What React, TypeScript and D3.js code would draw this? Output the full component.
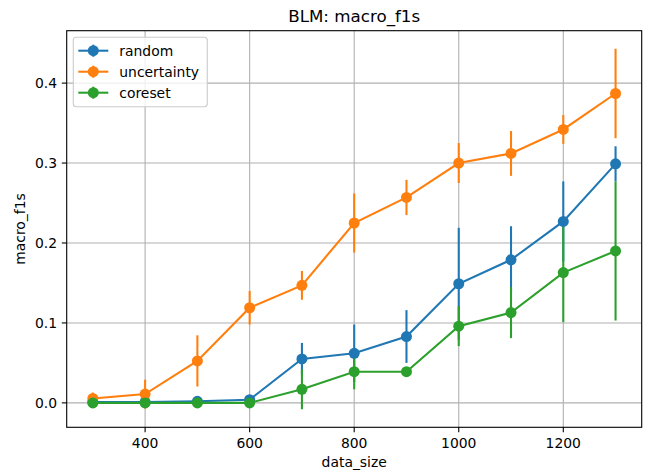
import React from 'react';
import * as d3 from 'd3';

// data
const dataSizes = [300, 400, 500, 600, 700, 800, 900, 1000, 1100, 1200, 1300];

const randomScores = [0.001, 0.001, 0.002, 0.004, 0.055, 0.062, 0.083, 0.149, 0.179, 0.227, 0.299];
const randomErrors = [0.001, 0.001, 0.002, 0.003, 0.02, 0.036, 0.033, 0.07, 0.042, 0.05, 0.022];

const uncertaintyScores = [0.0055, 0.011, 0.0525, 0.119, 0.147, 0.225, 0.257, 0.3, 0.312, 0.342, 0.387];
const uncertaintyErrors = [0.0075, 0.018, 0.032, 0.021, 0.018, 0.037, 0.022, 0.025, 0.028, 0.018, 0.056];

const coresetScores = [0, 0, 0, 0, 0.017, 0.039, 0.039, 0.096, 0.113, 0.163, 0.19];
const coresetErrors = [0.001, 0.001, 0.001, 0.001, 0.025, 0.022, 0.001, 0.025, 0.032, 0.062, 0.087];

const seriesNames = ['random', 'uncertainty', 'coreset'];
const seriesColors = ['#1f77b4', '#ff7f0e', '#2ca02c'];

const xTicks = [400, 600, 800, 1000, 1200];
const yTicks = [0, 0.1, 0.2, 0.3, 0.4];

const W = 651;
const H = 473;
const plot = { left: 66.7, right: 641.7, top: 30.7, bottom: 427.3 };
const font = 'DejaVu Sans, sans-serif';

interface Series {
  name: string;
  color: string;
  values: number[];
  errors: number[];
}

const series: Series[] = [
  { name: seriesNames[0], color: seriesColors[0], values: randomScores, errors: randomErrors },
  { name: seriesNames[1], color: seriesColors[1], values: uncertaintyScores, errors: uncertaintyErrors },
  { name: seriesNames[2], color: seriesColors[2], values: coresetScores, errors: coresetErrors },
];

// matplotlib-style 5% margins
const pad = (lo: number, hi: number): [number, number] => {
  const m = (hi - lo) * 0.05;
  return [lo - m, hi + m];
};

const App: React.FC = () => {
  const xExt = d3.extent(dataSizes) as [number, number];
  const yLo = d3.min(series, s => d3.min(s.values, (v, i) => v - s.errors[i])) || 0;
  const yHi = d3.max(series, s => d3.max(s.values, (v, i) => v + s.errors[i])) || 1;

  const x = d3.scaleLinear().domain(pad(xExt[0], xExt[1])).range([plot.left, plot.right]);
  const y = d3.scaleLinear().domain(pad(yLo, yHi)).range([plot.bottom, plot.top]);

  const line = d3.line<number>()
    .x((_, i) => x(dataSizes[i]))
    .y(v => y(v));

  const lw = 2.08;

  return (
    <svg width={W} height={H} style={{ position: 'absolute', left: 0, top: 0, background: '#fff' }}
      fontFamily={font}>
      <rect x={0} y={0} width={W} height={H} fill="#fff" />

      {/* grid */}
      <g stroke="#b0b0b0" strokeWidth={1.1}>
        {xTicks.map(t => (
          <line key={'gx' + t} x1={x(t)} x2={x(t)} y1={plot.top} y2={plot.bottom} />
        ))}
        {yTicks.map(t => (
          <line key={'gy' + t} x1={plot.left} x2={plot.right} y1={y(t)} y2={y(t)} />
        ))}
      </g>

      {/* error bars (drawn under all data lines, like matplotlib) */}
      {series.map(s => (
        <g key={'eb' + s.name} stroke={s.color} strokeWidth={lw}>
          {s.values.map((v, i) => (
            <line key={i} x1={x(dataSizes[i])} x2={x(dataSizes[i])}
              y1={y(v - s.errors[i])} y2={y(v + s.errors[i])} />
          ))}
        </g>
      ))}

      {/* lines + markers */}
      {series.map(s => (
        <g key={'ln' + s.name}>
          <path d={line(s.values) || ''} fill="none" stroke={s.color} strokeWidth={lw} />
          {s.values.map((v, i) => (
            <circle key={i} cx={x(dataSizes[i])} cy={y(v)} r={5.5} fill={s.color} />
          ))}
        </g>
      ))}

      {/* frame */}
      <rect x={plot.left} y={plot.top} width={plot.right - plot.left} height={plot.bottom - plot.top}
        fill="none" stroke="#000" strokeWidth={1.1} />

      {/* x axis */}
      {xTicks.map(t => (
        <g key={'xt' + t}>
          <line x1={x(t)} x2={x(t)} y1={plot.bottom} y2={plot.bottom + 4.9} stroke="#000" strokeWidth={1.1} />
          <text x={x(t)} y={448} textAnchor="middle" fontSize={13.9} fill="#000">{t}</text>
        </g>
      ))}
      <text x={(plot.left + plot.right) / 2} y={467} textAnchor="middle" fontSize={13.9} fill="#000">data_size</text>

      {/* y axis */}
      {yTicks.map(t => (
        <g key={'yt' + t}>
          <line x1={plot.left - 4.9} x2={plot.left} y1={y(t)} y2={y(t)} stroke="#000" strokeWidth={1.1} />
          <text x={57} y={y(t) + 5} textAnchor="end" fontSize={13.9} fill="#000">{d3.format('.1f')(t)}</text>
        </g>
      ))}
      <text transform={`translate(25,${(plot.top + plot.bottom) / 2}) rotate(-90)`} textAnchor="middle"
        fontSize={13.9} fill="#000">macro_f1s</text>

      {/* title */}
      <text x={(plot.left + plot.right) / 2} y={22} textAnchor="middle" fontSize={16.7} fill="#000">BLM: macro_f1s</text>

      {/* legend */}
      <g>
        <rect x={73.3} y={37.3} width={134} height={69.4} rx={3} fill="#fff" fillOpacity={0.8}
          stroke="#cccccc" strokeWidth={1.1} />
        {series.map((s, i) => {
          const cy = 50.7 + i * 21;
          return (
            <g key={'lg' + s.name}>
              <line x1={78.3} x2={108.3} y1={cy} y2={cy} stroke={s.color} strokeWidth={lw} />
              <line x1={93.3} x2={93.3} y1={cy - 6} y2={cy + 6} stroke={s.color} strokeWidth={lw} />
              <circle cx={93.3} cy={cy} r={5.5} fill={s.color} />
              <text x={119.3} y={cy + 5} fontSize={13.9} fill="#000">{s.name}</text>
            </g>
          );
        })}
      </g>
    </svg>
  );
};

export default App;
